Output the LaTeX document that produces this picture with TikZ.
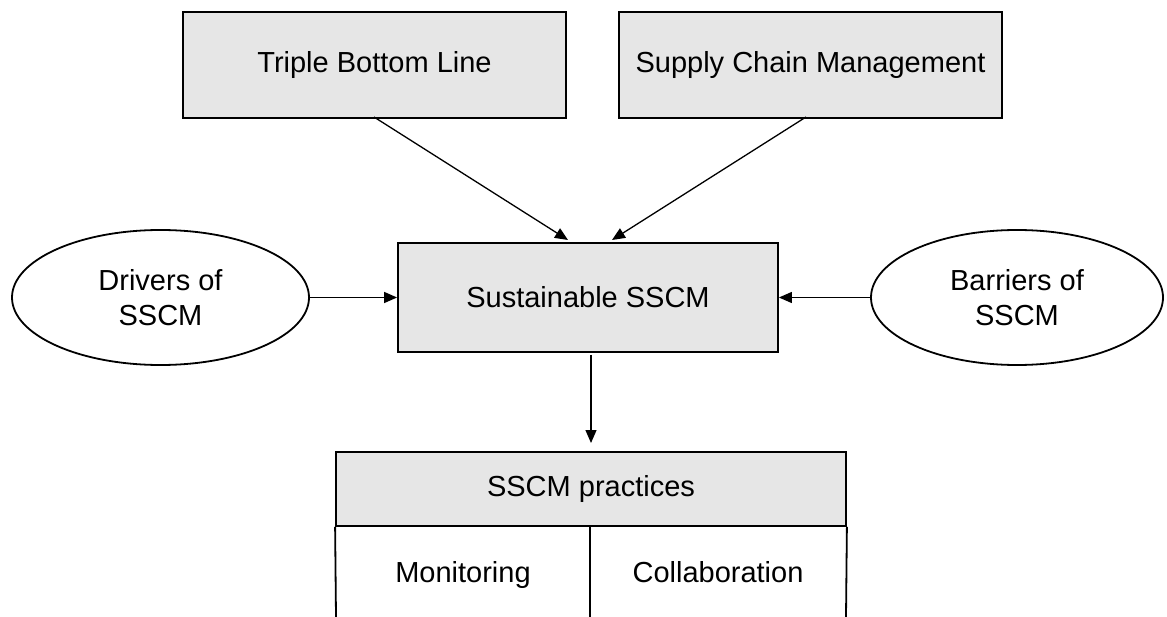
\documentclass[tikz,border=0pt]{standalone}
\usepackage{fontspec}
\setmainfont{Liberation Sans}
\usetikzlibrary{shapes.geometric,arrows.meta}
\definecolor{boxgray}{HTML}{E6E6E6}
\begin{document}
\begin{tikzpicture}[x=1pt,y=-1pt,
  every node/.style={font=\fontsize{29}{35}\selectfont, align=center},
  box/.style={draw, line width=1.8pt, fill=boxgray, inner sep=0pt},
  oval/.style={draw, ellipse, line width=1.8pt, inner sep=0pt},
  cell/.style={anchor=base, inner sep=0pt},
  link/.style={line width=1.3pt, -{Triangle[length=13pt,width=11pt]}},
  rule/.style={line width=1.8pt}]
  \useasboundingbox (0,0) rectangle (1167,617);

  % concept boxes
  \node[box, minimum width=383pt, minimum height=106pt] (tbl) at (374.5,65) {Triple Bottom Line};
  \node[box, minimum width=383pt, minimum height=106pt] (scm) at (810.5,65) {Supply Chain Management};
  \node[box, minimum width=380pt, minimum height=109pt] (core) at (588,297.5) {Sustainable SSCM};

  % drivers and barriers
  \node[oval, minimum width=297pt, minimum height=135pt] (drv) at (160.5,297.5) {Drivers of\\SSCM};
  \node[oval, minimum width=292pt, minimum height=135pt] (bar) at (1017,297.5) {Barriers of\\SSCM};

  % practices table
  \node[box, minimum width=510pt, minimum height=74pt] (prac) at (591,489) {SSCM practices};
  \node[cell] (mon) at (463,582) {Monitoring};
  \node[cell] (col) at (718,582) {Collaboration};
  \coordinate (divtop) at (590,526);
  \coordinate (divend) at (590,617);
  \coordinate (lend) at (336,617);
  \coordinate (rend) at (846,617);
  \draw[rule] (prac.south west) -- (lend);
  \draw[rule] (prac.south east) -- (rend);
  \draw[rule] (divtop) -- (divend);

  % connectors
  \coordinate (tblout) at (374,117);
  \coordinate (scmout) at (806,117);
  \coordinate (tblin) at (568,240);
  \coordinate (scmin) at (612,240);
  \coordinate (coreout) at (591,355);
  \coordinate (pracin) at (591,443);
  \draw[link] (tblout) -- (tblin);
  \draw[link] (scmout) -- (scmin);
  \draw[link] (drv.east) -- (core.west);
  \draw[link] (bar.west) -- (core.east);
  \draw[link] (coreout) -- (pracin);
\end{tikzpicture}
\end{document}
